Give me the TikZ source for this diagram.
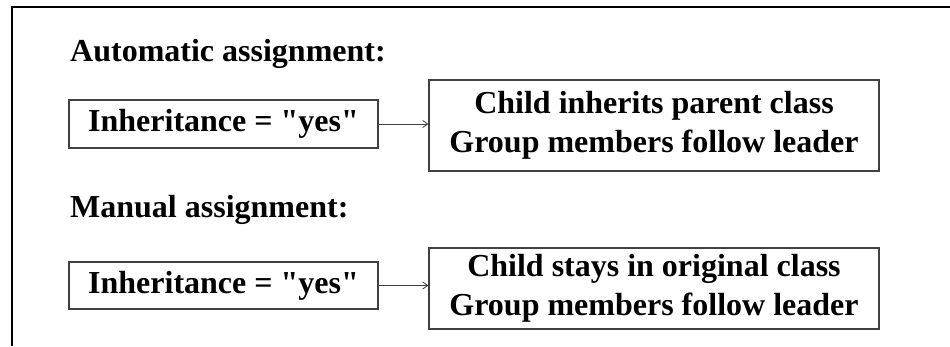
\documentclass[tikz,border=0pt]{standalone}
\usepackage{fontspec}
\setmainfont{Liberation Serif}
\usepackage{tikz}
\usetikzlibrary{positioning, arrows.meta}
\definecolor{FrameGray}{HTML}{404040}

\begin{document}
\begin{tikzpicture}[
            x=1pt, y=1pt,
            box/.style={draw=FrameGray, line width=1.2pt, inner sep=0pt, align=center, font=\fontsize{32}{39}\selectfont\bfseries},
            heading/.style={anchor=base west, inner sep=0pt, font=\fontsize{32}{39}\selectfont\bfseries},
            arrow/.style={-{Straight Barb[length=5pt, width=7pt]}, line width=0.8pt, FrameGray}
        ]
            \useasboundingbox (0,0) rectangle (950,346);
            \draw[line width=1.2pt] (12,0) -- (12,339) -- (950,339);

            \node[heading] (autoHead) at (70,284) {Automatic assignment:};
            \node[box, minimum width=309pt, minimum height=48pt] (autoIn) at (223.5,222) {Inheritance = \textquotedbl yes\textquotedbl};
            \node[box, minimum width=450pt, minimum height=91pt] (autoOut) at (654,220.5) {Child inherits parent class \\ Group members follow leader};

            \node[heading] (manHead) at (70,129) {Manual assignment:};
            \node[box, minimum width=309pt, minimum height=47pt] (manIn) at (223.5,60.5) {Inheritance = \textquotedbl yes\textquotedbl};
            \node[box, minimum width=450pt, minimum height=81pt] (manOut) at (654,57.5) {Child stays in original class \\ Group members follow leader};

            \draw[arrow] (autoIn.east) -- (autoIn.east -| autoOut.west);
            \draw[arrow] (manIn.east) -- (manIn.east -| manOut.west);

        \end{tikzpicture}
\end{document}
